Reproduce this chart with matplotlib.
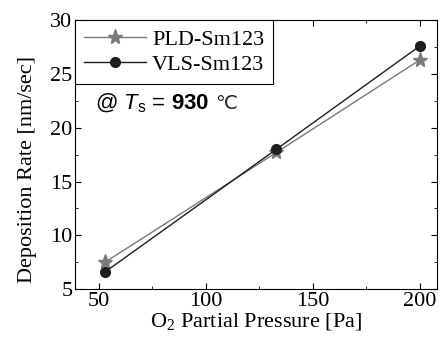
import matplotlib
matplotlib.use("Agg")
import matplotlib.pyplot as plt
from matplotlib.ticker import MultipleLocator

pressure = [53, 133, 200]
pld_rate = [7.5, 17.7, 26.3]
vls_rate = [6.6, 18.0, 27.6]

plt.rcParams['font.family'] = ['Liberation Serif', 'DejaVu Serif']
plt.rcParams['mathtext.fontset'] = 'custom'
plt.rcParams['mathtext.rm'] = 'Liberation Serif'
plt.rcParams['mathtext.it'] = 'Liberation Sans:italic'
plt.rcParams['mathtext.bf'] = 'Liberation Sans:bold'
plt.rcParams['mathtext.sf'] = 'Liberation Sans'

fig, ax = plt.subplots(figsize=(4.43, 3.38), dpi=100)
fig.subplots_adjust(left=0.17, right=0.986, top=0.94, bottom=0.145)

ax.plot(pressure, pld_rate, color='#7a7a7a', lw=1.0, marker='*', ms=11,
        label='PLD-Sm123')
ax.plot(pressure, vls_rate, color='#1e1e1e', lw=1.0, marker='o', ms=7,
        label='VLS-Sm123')

ax.set_xlim(39, 208)
ax.set_ylim(5, 30)
ax.xaxis.set_major_locator(MultipleLocator(50))
ax.xaxis.set_minor_locator(MultipleLocator(25))
ax.yaxis.set_major_locator(MultipleLocator(5))
ax.yaxis.set_minor_locator(MultipleLocator(2.5))
ax.tick_params(which='both', direction='in', top=True, right=True,
               labelsize=16, pad=2)
ax.tick_params(which='major', length=4)
ax.tick_params(which='minor', length=2.5)

ax.set_xlabel('O$_2$ Partial Pressure [Pa]', fontsize=16, labelpad=1)
ax.set_ylabel('Deposition Rate [nm/sec]', fontsize=16)
ax.yaxis.set_label_coords(-0.105, 0.445)

leg = ax.legend(loc='upper left', fontsize=16, borderaxespad=0, fancybox=False,
                edgecolor='black', framealpha=1, handlelength=2.8,
                borderpad=0.4, labelspacing=0.2, handletextpad=0.25)
leg.get_frame().set_linewidth(0.8)

t = ax.text(0.055, 0.69, r'@ $\mathit{T}_{\mathsf{s}}$ = $\mathbf{930}$',
            transform=ax.transAxes, fontsize=16, va='center',
            family='Liberation Sans')
ax.annotate('℃', xy=(1, 0.5), xycoords=t, xytext=(4, 0),
            textcoords='offset points', va='center', fontsize=14,
            family='DejaVu Sans', color='#222222')

fig.savefig('out.png', dpi=100)
